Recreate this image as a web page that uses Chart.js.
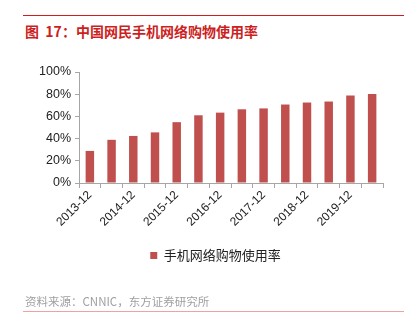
<!DOCTYPE html>
<html>
<head>
<meta charset="utf-8">
<script src="https://cdn.jsdelivr.net/npm/chart.js@4"></script>
<style>
    html, body { margin: 0; padding: 0; background: #fff; }
    #wrap { position: relative; width: 415px; height: 330px; overflow: hidden; }
    #chart { position: absolute; left: 0; top: 0; }
    .rule { position: absolute; left: 23px; width: 381px; height: 1px; }
    #title {
        position: absolute; left: 25px; top: 21px;
        font: bold 14px "Noto Sans CJK SC", sans-serif; color: #cc1f1f; white-space: nowrap;
    }
    #source {
        position: absolute; left: 25px; top: 293px;
        font: 11.5px "Noto Sans CJK SC", sans-serif; color: #a0a0a0; white-space: nowrap;
    }
</style>
</head>
<body>
<div id="wrap">
    <div class="rule" style="top:15px; background:#d01c1c;"></div>
    <div id="title">图&nbsp;&nbsp;17：中国网民手机网络购物使用率</div>
    <canvas id="chart" width="415" height="330"></canvas>
    <div id="source">资料来源：CNNIC，东方证券研究所</div>
    <div class="rule" style="top:311px; background:#f2a0a0;"></div>
</div>
<script>
// half-year survey points, only every other one is labelled on the axis
const periods = ['2013-12', '2014-06', '2014-12', '2015-06', '2015-12', '2016-06', '2016-12',
    '2017-06', '2017-12', '2018-06', '2018-12', '2019-06', '2019-12', '2020-06'];
const mobileShoppingRate = [28.9, 38.9, 42.4, 45.6, 54.8, 61.0, 63.4, 66.4, 67.2, 70.7, 72.5, 73.4, 78.9, 80.1];
const yTicks = [0, 20, 40, 60, 80, 100];

const axisGray = '#a6a6a6';
const labelFamily = 'Liberation Sans, Arial, sans-serif';

// nudge the legend to the right so it sits centred under the whole page
const legendShift = {
    id: 'legendShift',
    afterLayout(chart) {
        chart.legend.left += 14;
        chart.legend.right += 14;
    }
};

const ctx = document.getElementById('chart').getContext('2d');
new Chart(ctx, {
    type: 'bar',
    data: {
        labels: periods,
        datasets: [{
            label: '手机网络购物使用率',
            data: mobileShoppingRate,
            backgroundColor: '#c0504d',
            borderWidth: 0,
            barPercentage: 0.39,
            categoryPercentage: 1.0
        }]
    },
    options: {
        responsive: false,
        animation: false,
        layout: { padding: { left: 20, right: 32, top: 72, bottom: 58 } },
        scales: {
            x: {
                grid: { drawOnChartArea: false, color: axisGray, tickLength: 5, offset: true },
                border: { color: axisGray },
                ticks: {
                    autoSkip: false,
                    minRotation: 45,
                    maxRotation: 45,
                    color: '#222',
                    font: { family: labelFamily, size: 12 },
                    padding: 0,
                    callback: function(value, index) {
                        return index % 2 === 0 ? periods[index] : '';
                    }
                },
                afterFit: function(scale) { scale.height = 62; }
            },
            y: {
                min: 0,
                max: 100,
                afterBuildTicks: function(scale) {
                    scale.ticks = yTicks.map(v => ({ value: v }));
                },
                grid: { drawOnChartArea: false, color: axisGray, tickLength: 4 },
                border: { color: axisGray },
                ticks: {
                    color: '#222',
                    font: { family: labelFamily, size: 12.5 },
                    padding: 4,
                    callback: function(value) { return value + '%'; }
                },
                afterFit: function(scale) { scale.width = 59; }
            }
        },
        plugins: {
            legend: {
                position: 'bottom',
                labels: {
                    boxWidth: 7,
                    boxHeight: 7,
                    padding: 4,
                    color: '#222',
                    font: { family: 'Noto Sans CJK SC, sans-serif', size: 13 }
                }
            },
            tooltip: { enabled: false }
        }
    },
    plugins: [legendShift]
});
</script>
</body>
</html>
